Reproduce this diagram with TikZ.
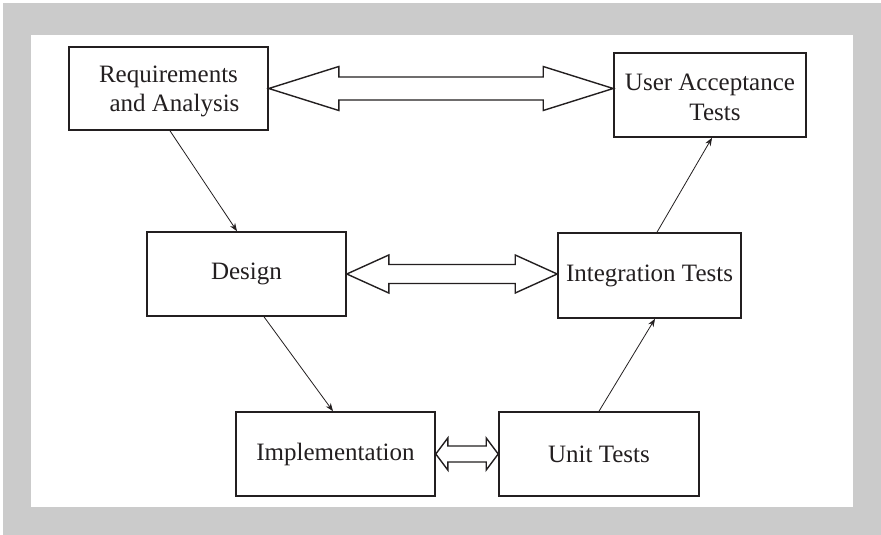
\documentclass[tikz,border=0pt]{standalone}
\usepackage{fontspec}
\setmainfont{Liberation Serif}
\usetikzlibrary{calc,arrows.meta}
\definecolor{ink}{HTML}{231F20}
\definecolor{frame}{HTML}{CBCBCB}
\tikzset{
  box/.style={draw=ink, line width=1.6pt, fill=white, inner sep=0pt, align=center,
    text=ink, font=\fontsize{25}{29.5}\selectfont},
  txt/.style={inner sep=0pt, align=center, text=ink, font=\fontsize{25}{29.5}\selectfont},
  conn/.style={draw=ink, line width=0.8pt, -{Stealth[length=8pt,width=6pt]}},
  dbl/.style={draw=ink, line width=1.4pt, line join=miter, fill=white},
}
\newcommand\dblarr[5]{%
  \draw[dbl] let \p1=(#1.east), \p2=(#2.west) in
    (\x1,\y1) -- (\x1+#3,\y1+#4) -- (\x1+#3,\y1+#5) -- (\x2-#3,\y1+#5)
    -- (\x2-#3,\y1+#4) -- (\x2,\y1) -- (\x2-#3,\y1-#4) -- (\x2-#3,\y1-#5)
    -- (\x1+#3,\y1-#5) -- (\x1+#3,\y1-#4) -- cycle;}
\begin{document}
\begin{tikzpicture}[x=1pt,y=-1pt]
  \useasboundingbox (0,0) rectangle (881,535);
  \fill[frame] (3,3) rectangle (881,535);
  \fill[white] (31,35) rectangle (853,507);

  \node[box, minimum width=199pt, minimum height=83pt] (req) at (168.5,88.5) {};
  \node[txt] (reqt) at ($(req.center)+(0,3)$) {Requirements\\\hspace*{12pt}and Analysis};
  \node[box, minimum width=192pt, minimum height=84pt] (uat) at (710,95) {};
  \node[txt, font=\fontsize{25}{30}\selectfont] (uatt) at ($(uat.center)+(0,2)$) {User Acceptance\\\hspace*{10pt}Tests};
  \node[box, minimum width=199pt, minimum height=84pt] (des) at (246.5,274) {Design};
  \node[box, minimum width=183pt, minimum height=85pt] (int) at (649.5,275.5) {Integration Tests};
  \node[box, minimum width=199pt, minimum height=84pt] (imp) at (335.5,454) {Implementation};
  \node[box, minimum width=200pt, minimum height=84pt] (unit) at (599,454) {Unit Tests};

  \dblarr{req}{uat}{70pt}{22pt}{11.5pt}
  \dblarr{des}{int}{42pt}{19pt}{9.5pt}
  \dblarr{imp}{unit}{12pt}{16pt}{8pt}

  \draw[conn] ($(req.south)+(1.5,0)$) -- ($(des.north)+(-9.5,0)$);
  \draw[conn] ($(des.south)+(17.5,0)$) -- ($(imp.north)+(-2.5,0)$);
  \draw[conn] ($(unit.north)+(0,0)$) -- ($(int.south)+(5.5,0)$);
  \draw[conn] ($(int.north)+(7.5,0)$) -- ($(uat.south)+(2,0)$);
\end{tikzpicture}
\end{document}
